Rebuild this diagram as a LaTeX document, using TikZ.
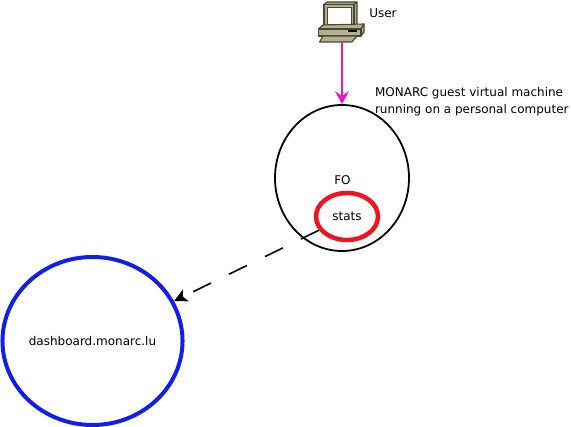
\documentclass[tikz,border=0pt]{standalone}
\usepackage{fontspec}
\setmainfont{DejaVu Sans}
\usetikzlibrary{arrows}
\usetikzlibrary{arrows.meta}
\usetikzlibrary{shapes.geometric}
\definecolor{pcbody}{RGB}{178,178,146}
\definecolor{pcdark}{RGB}{70,70,50}
\definecolor{linkpink}{RGB}{240,20,200}
\definecolor{sitered}{RGB}{240,20,30}
\definecolor{siteblue}{RGB}{20,30,235}
\begin{document}
\begin{tikzpicture}[line cap=butt,line join=round,x=1pt,y=-1pt,
  every node/.style={font=\fontsize{12}{17}\selectfont,text=black},
  site/.style={draw,ellipse,inner sep=0pt}]
\useasboundingbox (0,0) rectangle (571,427);
% computer
\begin{scope}[draw=pcdark,line width=1.1pt,fill=pcbody]
\filldraw (324,4.5)--(327,2)--(357,2)--(354,4.5)--cycle;
\filldraw (354,4.5)--(357,2)--(357,26)--(354,28)--cycle;
\filldraw (324,4.5) rectangle (354,28);
\filldraw[fill=white] (327.5,7.5) rectangle (351.5,25);
\filldraw (318.5,29)--(323,25)--(364,24)--(361,29)--cycle;
\filldraw (361,29)--(364,24)--(364,32)--(361,36)--cycle;
\filldraw (318.5,29) rectangle (361,36);
\filldraw (323,36)--(319.5,42)--(352,42)--(357,36)--cycle;
\fill[black] (348,30.5) rectangle (357,32.5);
\end{scope}
\coordinate (pc) at (342,42);
\node (userlabel) at (383,13) {User};
\node (vmlabel) [anchor=west,align=left] at (371.5,102) {MONARC guest virtual machine\\running on a personal computer};
%
\node (fo) [site,line width=1.8pt,minimum width=134pt,minimum height=146pt] at (342,178) {};
\node (folabel) at (342.5,180) {FO};
\node (stats) [site,draw=sitered,line width=4.5pt,minimum width=62pt,minimum height=47pt] at (347,216.5) {stats};
\node (dashboard) [site,draw=siteblue,line width=4pt,minimum width=179pt,minimum height=168pt] at (92.5,341) {dashboard.monarc.lu};
%
\draw[linkpink,line width=2pt,-{Stealth[length=13pt,width=14pt,inset=5pt]}] (pc) -- (fo.north);
\draw[line width=1.6pt,dash pattern=on 20pt off 20pt,-{Stealth[length=13pt,width=13pt,inset=3pt]}] (stats) -- (dashboard);
\end{tikzpicture}
\end{document}
